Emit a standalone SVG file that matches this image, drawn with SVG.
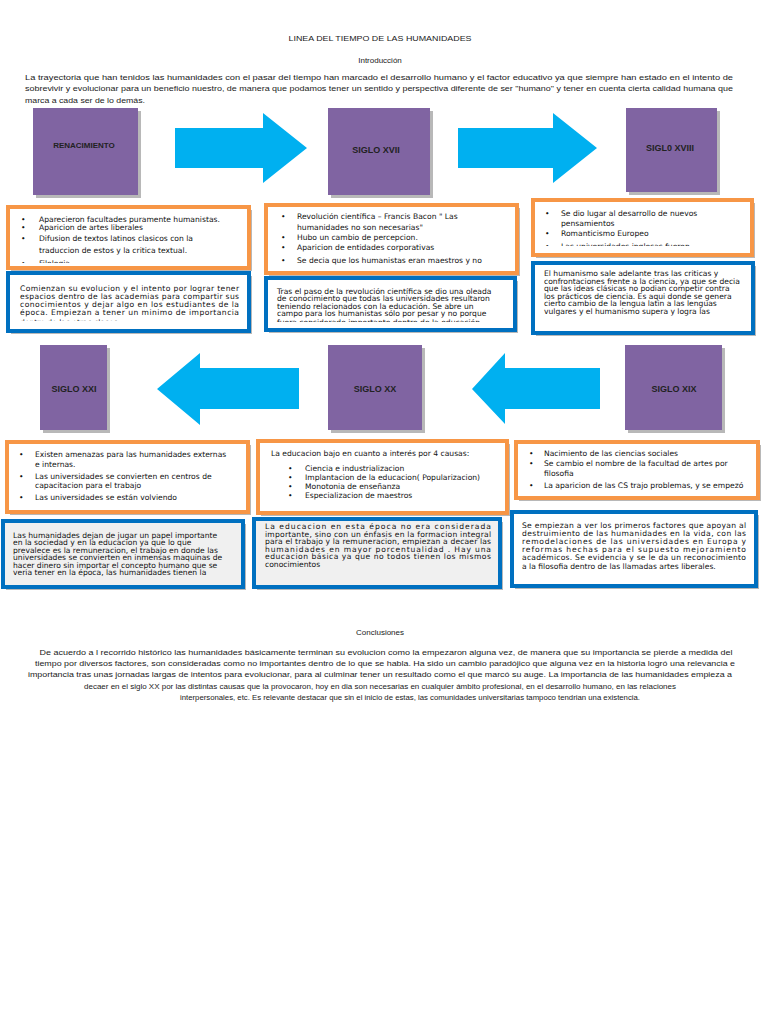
<svg xmlns="http://www.w3.org/2000/svg" width="768" height="1024" viewBox="0 0 768 1024">
<style>
.t{font-family:"Liberation Sans",Arial,sans-serif;font-size:8px;fill:#1a1a1a}
.b{font-family:"DejaVu Sans","Liberation Sans",sans-serif;font-size:7.6px;fill:#111}
.c{text-anchor:middle}
.lbl{font-family:"Liberation Sans",Arial,sans-serif;font-size:9px;font-weight:bold;fill:#222;text-anchor:middle}
.pur{fill:#8064a2}
.sh{fill:#9a9a9a;opacity:0.7}
.or{fill:#fff;stroke:#f79646;stroke-width:4}
.bl{fill:#fff;stroke:#0070c0;stroke-width:4}
.blg{fill:#f0f0f0;stroke:#0070c0;stroke-width:4}
.ar{fill:#00b0f0}
</style>
<defs>
<clipPath id="c1"><rect x="10" y="209" width="238" height="54"/></clipPath>
<clipPath id="c2"><rect x="268" y="207" width="248" height="62"/></clipPath>
<clipPath id="c3"><rect x="535" y="202" width="215" height="44"/></clipPath>
<clipPath id="c4"><rect x="10" y="275" width="238" height="46"/></clipPath>
<clipPath id="c5"><rect x="268" y="280" width="246" height="42"/></clipPath>
</defs>
<rect width="768" height="1024" fill="#fff"/>

<g id="header">
<text class="t c" x="380" y="41" textLength="183" lengthAdjust="spacingAndGlyphs">LINEA DEL TIEMPO DE LAS HUMANIDADES</text>
<text class="t c" x="380" y="63">Introducción</text>
<text class="t" x="25" y="80" textLength="708" lengthAdjust="spacingAndGlyphs">La trayectoria que han tenidos las humanidades con el pasar del tiempo han marcado el desarrollo humano y el factor educativo ya que siempre han estado en el intento de</text>
<text class="t" x="25" y="91" textLength="708" lengthAdjust="spacingAndGlyphs">sobrevivir y evolucionar para un beneficio nuestro, de manera que podamos tener un sentido y perspectiva diferente de ser "humano" y tener en cuenta cierta calidad humana que</text>
<text class="t" x="25" y="103" textLength="120" lengthAdjust="spacingAndGlyphs">marca a cada ser de lo demás.</text>
</g>

<g id="connectors">
<polygon class="ar" points="175,128 263,128 263,113 307,148 263,183 263,168 175,168"/>
<polygon class="ar" points="458,128 553,128 553,113 597,148 553,183 553,168 458,168"/>
<polygon class="ar" points="299,368 200,368 200,353 157,389 200,425 200,409 299,409"/>
<polygon class="ar" points="600,368 505,368 505,353 472,389 505,424 505,409 600,409"/>
</g>

<g id="renacimiento">
<rect class="sh" x="36" y="111" width="105" height="87"/>
<rect class="pur" x="33" y="108" width="105" height="87"/>
<text class="lbl" x="84" y="148" style="font-size:8px">RENACIMIENTO</text>
</g>
<g id="siglo-xvii">
<rect class="sh" x="331" y="111" width="102" height="87"/>
<rect class="pur" x="328" y="108" width="102" height="87"/>
<text class="lbl" x="376" y="153">SIGLO XVII</text>
</g>
<g id="siglo-xviii">
<rect class="sh" x="629" y="111" width="91" height="84"/>
<rect class="pur" x="626" y="108" width="91" height="84"/>
<text class="lbl" x="670" y="151">SIGL0 XVIII</text>
</g>
<g id="siglo-xxi">
<rect class="sh" x="43" y="348" width="67" height="85"/>
<rect class="pur" x="40" y="345" width="67" height="85"/>
<text class="lbl" x="74" y="392">SIGLO XXI</text>
</g>
<g id="siglo-xx">
<rect class="sh" x="331" y="348" width="94" height="85"/>
<rect class="pur" x="328" y="345" width="94" height="85"/>
<text class="lbl" x="375" y="392">SIGLO XX</text>
</g>
<g id="siglo-xix">
<rect class="sh" x="628" y="348" width="97" height="85"/>
<rect class="pur" x="625" y="345" width="97" height="85"/>
<text class="lbl" x="674" y="392">SIGLO XIX</text>
</g>

<g id="renacimiento-lista">
<rect class="sh" x="11" y="210" width="241" height="61"/>
<rect class="or" x="8" y="207" width="241" height="61"/>
<g clip-path="url(#c1)">
<text class="b" x="21" y="222">•</text><text class="b" x="39" y="222">Aparecieron facultades puramente humanistas.</text>
<text class="b" x="21" y="230">•</text><text class="b" x="39" y="230">Aparicion de artes liberales</text>
<text class="b" x="21" y="241">•</text><text class="b" x="39" y="241">Difusion de textos latinos clasicos con la</text>
<text class="b" x="39" y="253">traduccion de estos y la critica textual.</text>
<text class="b" x="21" y="266">•</text><text class="b" x="39" y="266">Filologia</text>
</g>
</g>
<g id="renacimiento-texto">
<rect class="sh" x="11" y="276" width="241" height="58"/>
<rect class="bl" x="8" y="273" width="241" height="58"/>
<g clip-path="url(#c4)">
<text class="b" x="20" y="290.5" textLength="219" lengthAdjust="spacing">Comienzan su evolucion y el intento por lograr tener</text>
<text class="b" x="20" y="298.5" textLength="219" lengthAdjust="spacing">espacios dentro de las academias para compartir sus</text>
<text class="b" x="20" y="306.5" textLength="219" lengthAdjust="spacing">conocimientos y dejar algo en los estudiantes de la</text>
<text class="b" x="20" y="314.5" textLength="219" lengthAdjust="spacing">época. Empiezan a tener un minimo de importancia</text>
<text class="b" x="20" y="324.5">dentro de las otras clases</text>
</g>
</g>

<g id="xvii-lista">
<rect class="sh" x="269" y="208" width="251" height="68"/>
<rect class="or" x="266" y="205" width="251" height="68"/>
<g clip-path="url(#c2)">
<text class="b" x="281" y="219">•</text><text class="b" x="297" y="219">Revolución científica – Francis Bacon " Las</text>
<text class="b" x="297" y="230">humanidades no son necesarias"</text>
<text class="b" x="281" y="240">•</text><text class="b" x="297" y="240">Hubo un cambio de percepcion.</text>
<text class="b" x="281" y="250">•</text><text class="b" x="297" y="250">Aparicion de entidades corporativas</text>
<text class="b" x="281" y="263">•</text><text class="b" x="297" y="263">Se decia que los humanistas eran maestros y no</text>
</g>
</g>
<g id="xvii-texto">
<rect class="sh" x="269" y="281" width="249" height="52"/>
<rect class="bl" x="266" y="278" width="249" height="52"/>
<g clip-path="url(#c5)">
<text class="b" x="277" y="293.5">Tras el paso de la revolución científica se dio una oleada</text>
<text class="b" x="277" y="301">de conocimiento que todas las universidades resultaron</text>
<text class="b" x="277" y="308.5">teniendo relacionados con la educación.  Se abre un</text>
<text class="b" x="277" y="316">campo para los humanistas sólo por  pesar y no porque</text>
<text class="b" x="277" y="325">fuera considerado importante dentro de la educación</text>
</g>
</g>

<g id="xviii-lista">
<rect class="sh" x="536" y="203" width="219" height="55"/>
<rect class="or" x="533" y="200" width="219" height="55"/>
<g clip-path="url(#c3)">
<text class="b" x="545" y="215.5">•</text><text class="b" x="561" y="215.5">Se dio lugar al desarrollo de nuevos</text>
<text class="b" x="561" y="225.5">pensamientos</text>
<text class="b" x="545" y="235.5">•</text><text class="b" x="561" y="235.5">Romanticismo Europeo</text>
<text class="b" x="545" y="248.5">•</text><text class="b" x="561" y="248.5">Las universidades inglesas fueron</text>
</g>
</g>
<g id="xviii-texto">
<rect class="sh" x="536" y="266" width="220" height="70"/>
<rect class="bl" x="533" y="263" width="220" height="70"/>
<text class="b" x="544" y="276">El humanismo sale adelante tras las criticas y</text>
<text class="b" x="544" y="283.5">confrontaciones frente a la ciencia, ya que se decia</text>
<text class="b" x="544" y="291">que las ideas clásicas no podian competir contra</text>
<text class="b" x="544" y="298.5">los prácticos de ciencia. Es aqui donde se genera</text>
<text class="b" x="544" y="306">cierto cambio de la lengua latin a las lenguas</text>
<text class="b" x="544" y="313.5">vulgares  y el humanismo supera y logra las</text>
</g>

<g id="xxi-lista">
<rect class="sh" x="10" y="445" width="241" height="70"/>
<rect class="or" x="7" y="442" width="241" height="70"/>
<text class="b" x="19" y="457">•</text><text class="b" x="35" y="457">Existen amenazas para las humanidades externas</text>
<text class="b" x="35" y="467">e internas.</text>
<text class="b" x="19" y="479">•</text><text class="b" x="35" y="479">Las universidades se convierten en centros de</text>
<text class="b" x="35" y="488">capacitacion para el trabajo</text>
<text class="b" x="19" y="500">•</text><text class="b" x="35" y="500">Las universidades se están volviendo</text>
</g>
<g id="xxi-texto">
<rect class="sh" x="6" y="524" width="240" height="66"/>
<rect class="blg" x="3" y="521" width="240" height="66"/>
<text class="b" x="13" y="537.5">Las humanidades dejan de jugar un papel importante</text>
<text class="b" x="13" y="545">en la sociedad y en la educacion ya que lo que</text>
<text class="b" x="13" y="552.5">prevalece es la remuneracion, el trabajo en donde las</text>
<text class="b" x="13" y="560">universidades se convierten en inmensas maquinas de</text>
<text class="b" x="13" y="567.5">hacer dinero sin importar el concepto humano que se</text>
<text class="b" x="13" y="575">veria tener en la época, las humanidades tienen la</text>
</g>

<g id="xx-lista">
<rect class="sh" x="261" y="444" width="249" height="72"/>
<rect class="or" x="258" y="441" width="249" height="72"/>
<text class="b" x="271" y="456">La educacion bajo en cuanto a interés por 4 causas:</text>
<text class="b" x="288" y="471">•</text><text class="b" x="305" y="471">Ciencia e industrializacion</text>
<text class="b" x="288" y="480">•</text><text class="b" x="305" y="480">Implantacion de la educacion( Popularizacion)</text>
<text class="b" x="288" y="488.5">•</text><text class="b" x="305" y="488.5">Monotonia de enseñanza</text>
<text class="b" x="288" y="497.5">•</text><text class="b" x="305" y="497.5">Especializacion de maestros</text>
</g>
<g id="xx-texto">
<rect class="sh" x="257" y="522" width="246" height="68"/>
<rect class="blg" x="254" y="519" width="246" height="68"/>
<text class="b" x="265" y="529" textLength="226" lengthAdjust="spacing">La educacion en esta época no era considerada</text>
<text class="b" x="265" y="536.5" textLength="226" lengthAdjust="spacing">importante, sino con un énfasis en la formacion integral</text>
<text class="b" x="265" y="544" textLength="226" lengthAdjust="spacing">para el trabajo y la remuneracion, empiezan a decaer las</text>
<text class="b" x="265" y="551.5" textLength="226" lengthAdjust="spacing">humanidades en mayor porcentualidad . Hay una</text>
<text class="b" x="265" y="559" textLength="226" lengthAdjust="spacing">educacion básica ya que no todos tienen los mismos</text>
<text class="b" x="265" y="566.5">conocimientos</text>
</g>

<g id="xix-lista">
<rect class="sh" x="519" y="445" width="242" height="56"/>
<rect class="or" x="516" y="442" width="242" height="56"/>
<text class="b" x="529" y="456">•</text><text class="b" x="544" y="456">Nacimiento de las ciencias sociales</text>
<text class="b" x="529" y="466">•</text><text class="b" x="544" y="466">Se cambio el nombre de la facultad de artes por</text>
<text class="b" x="544" y="476">filosofia</text>
<text class="b" x="529" y="487.5">•</text><text class="b" x="544" y="487.5">La aparicion de las CS trajo problemas, y se empezó</text>
</g>
<g id="xix-texto">
<rect class="sh" x="515" y="515" width="244" height="74"/>
<rect class="bl" x="512" y="512" width="244" height="74"/>
<text class="b" x="522" y="528" textLength="224" lengthAdjust="spacing">Se empiezan a ver los primeros factores que apoyan al</text>
<text class="b" x="522" y="536" textLength="224" lengthAdjust="spacing">destruimiento de las humanidades en la vida, con las</text>
<text class="b" x="522" y="544" textLength="224" lengthAdjust="spacing">remodelaciones de las universidades en Europa y</text>
<text class="b" x="522" y="552" textLength="224" lengthAdjust="spacing">reformas hechas para el supuesto mejoramiento</text>
<text class="b" x="522" y="560" textLength="224" lengthAdjust="spacing">académicos. Se evidencia y se le da un reconocimiento</text>
<text class="b" x="522" y="568.5">a la filosofia dentro de las llamadas artes liberales.</text>
</g>

<g id="conclusiones">
<text class="t c" x="380" y="635">Conclusiones</text>
<text class="t c" x="386" y="655" textLength="693" lengthAdjust="spacingAndGlyphs">De acuerdo a l recorrido histórico las humanidades básicamente terminan su evolucion como la empezaron alguna vez, de manera que su importancia se pierde a medida del</text>
<text class="t c" x="385" y="666" textLength="700" lengthAdjust="spacingAndGlyphs">tiempo por diversos factores, son consideradas como no importantes dentro de lo que se habla. Ha sido un cambio paradójico que alguna vez en la historia logró una relevancia e</text>
<text class="t c" x="380" y="677" textLength="704" lengthAdjust="spacingAndGlyphs">importancia tras unas jornadas largas de intentos para evolucionar, para al culminar tener un resultado como el que marcó su auge. La importancia de las humanidades empieza a</text>
<text class="t c" x="380" y="689" textLength="592" lengthAdjust="spacingAndGlyphs">decaer en el siglo XX por las distintas causas que la provocaron, hoy en dia son necesarias en cualquier ámbito profesional, en el desarrollo humano, en las relaciones</text>
<text class="t c" x="410" y="700" textLength="460" lengthAdjust="spacingAndGlyphs">interpersonales, etc. Es relevante destacar que sin el inicio de estas, las comunidades universitarias tampoco tendrian una existencia.</text>
</g>
</svg>
